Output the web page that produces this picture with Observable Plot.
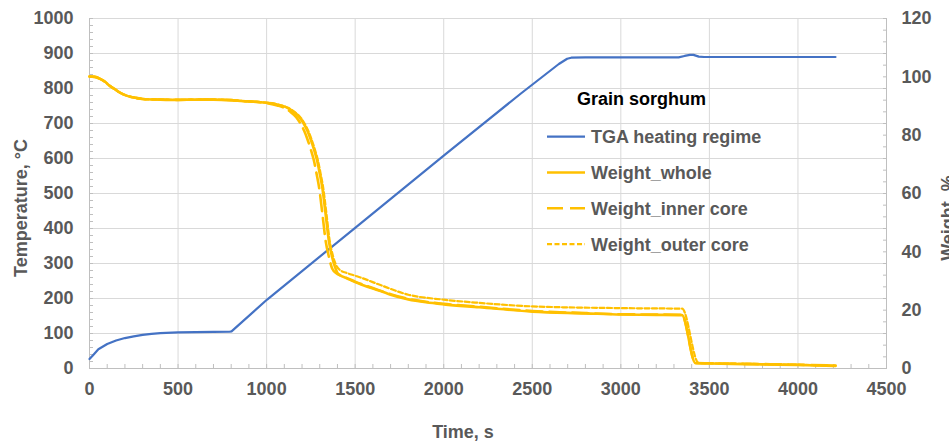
<!DOCTYPE html>
<html>
<head>
<meta charset="utf-8">
<script src="https://cdn.jsdelivr.net/npm/d3@7"></script>
<script src="https://cdn.jsdelivr.net/npm/@observablehq/plot@0.6"></script>
<style>
  body { margin: 0; background: #fff; }
  #wrap { position: relative; width: 949px; height: 443px; overflow: hidden; }
  #wrap > svg { position: absolute; left: 0; top: 0; }
</style>
</head>
<body>
<div id="wrap"></div>
<script>
// ---- Tick labels ----
const timeTicks = [0, 500, 1000, 1500, 2000, 2500, 3000, 3500, 4000, 4500];
const tempTicks = [0, 100, 200, 300, 400, 500, 600, 700, 800, 900, 1000];
const weightTicks = [0, 20, 40, 60, 80, 100, 120];

// ---- Series: TGA heating regime (temperature, °C) ----
const tgaTime = [0, 20, 50, 100, 150, 200, 250, 300, 350, 400, 500, 600, 700, 790, 802,
  1003, 1500, 2000, 2434, 2650, 2697, 2720, 2800, 3000, 3326, 3360, 3390, 3410, 3440, 3470, 3800, 4212];
const tgaTemp = [27, 38, 55, 70, 80, 87, 92, 96, 99, 101, 103, 104, 104.5, 105, 106,
  197, 402, 608, 785, 870, 885, 888, 889, 889, 889, 893, 896, 896, 891, 890, 890, 890];

// ---- Series: Weight_whole (%) ----
const wholeTime = [0, 30, 60, 90, 110, 140, 166, 195, 222, 260, 300, 400, 500, 600, 700, 800, 862, 965,
  1030, 1078, 1120, 1154, 1185, 1210, 1230, 1248, 1268, 1285, 1300, 1314, 1333, 1351, 1370, 1385, 1398, 1417,
  1450, 1500, 1530, 1600, 1643, 1700, 1800, 1900, 2000, 2200, 2500, 2800, 3000, 3200, 3345, 3422, 3500, 3700, 4000, 4212];
const wholeWeight = [100.1, 100, 99.3, 98.2, 97.1, 95.9, 94.8, 93.9, 93.3, 92.8, 92.4, 92.2, 92.1, 92.2, 92.2, 92.0, 91.7, 91.3,
  90.9, 90.2, 89.3, 87.9, 86.2, 83.9, 81.5, 78.7, 75.0, 71.3, 66.8, 62.2, 53.0, 43.9, 38.2, 35.0, 33.0, 31.9,
  31.0, 29.6, 28.9, 27.4, 26.6, 25.3, 23.7, 22.7, 22.0, 21.0, 19.5, 18.9, 18.5, 18.4, 18.3, 1.8, 1.7, 1.5, 1.2, 0.9];

// ---- Series: Weight_inner core (%) ----
const innerTime = [0, 30, 60, 90, 110, 140, 166, 195, 222, 260, 300, 400, 500, 600, 700, 800, 862, 965,
  1010, 1060, 1102, 1136, 1167, 1192, 1212, 1230, 1250, 1267, 1282, 1296, 1315, 1333, 1352, 1370, 1395, 1420,
  1450, 1500, 1600, 1700, 1800, 2000, 2200, 2500, 2800, 3000, 3200, 3345, 3422, 3500, 3700, 4000, 4212];
const innerWeight = [100.1, 100, 99.3, 98.2, 97.1, 95.9, 94.8, 93.9, 93.3, 92.8, 92.4, 92.2, 92.1, 92.2, 92.2, 92.0, 91.7, 91.3,
  90.9, 90.2, 89.3, 87.9, 86.2, 83.9, 81.5, 78.7, 75.0, 71.3, 66.8, 62.2, 53.0, 43.9, 38.2, 34.3, 32.6, 31.8,
  31.1, 29.8, 27.6, 25.5, 23.9, 22.2, 21.2, 19.7, 19.0, 18.6, 18.5, 18.4, 1.9, 1.8, 1.6, 1.3, 1.0];

// ---- Series: Weight_outer core (%) ----
const outerTime = [0, 30, 60, 90, 110, 140, 166, 195, 222, 260, 300, 400, 500, 600, 700, 800, 862, 965,
  1035, 1083, 1125, 1159, 1190, 1215, 1235, 1253, 1273, 1290, 1305, 1319, 1338, 1356, 1375, 1392, 1413,
  1450, 1500, 1530, 1643, 1800, 2000, 2200, 2500, 3000, 3346, 3439, 3500, 3700, 4000, 4212];
const outerWeight = [100.1, 100, 99.3, 98.2, 97.1, 95.9, 94.8, 93.9, 93.3, 92.8, 92.4, 92.2, 92.1, 92.2, 92.2, 92.0, 91.7, 91.3,
  90.9, 90.2, 89.3, 87.9, 86.2, 83.9, 81.5, 78.7, 75.0, 71.3, 66.8, 62.2, 53.0, 43.9, 38.5, 35.5, 33.8,
  32.8, 31.8, 31.2, 28.6, 25.3, 23.6, 22.5, 21.3, 20.7, 20.5, 1.9, 1.8, 1.6, 1.3, 1.0];

// ---- Build tables ----
const W2T = 1000 / 120; // weight axis (0-120) aligned to temperature axis (0-1000)
const tga = tgaTime.map((t, i) => ({t, v: tgaTemp[i]}));
const whole = wholeTime.map((t, i) => ({t, v: wholeWeight[i] * W2T}));
const inner = innerTime.map((t, i) => ({t, v: innerWeight[i] * W2T}));
const outer = outerTime.map((t, i) => ({t, v: outerWeight[i] * W2T}));

const minorTime = d3.range(0, 4501, 100);
const minorTemp = d3.range(0, 1001, 20);
const minorWeight = d3.range(0, 121, 4).map(w => w * W2T);

const FONT = "'Liberation Sans', Arial, sans-serif";
const GRAY = "#595959";
const YELLOW = "#FFC000";
const BLUE = "#4472C4";
const labelStyle = {fontSize: 18, fontWeight: "bold", fill: GRAY, stroke: null, label: null};
const minorStyle = {tickFormat: () => "", stroke: "#bfbfbf", label: null};

const chart = Plot.plot({
  width: 949,
  height: 443,
  marginLeft: 89,
  marginRight: 63,
  marginTop: 18,
  marginBottom: 75,
  x: {domain: [0, 4500], axis: null},
  y: {domain: [0, 1000], axis: null},
  style: {fontFamily: FONT, background: "white"},
  marks: [
    Plot.ruleY(tempTicks.slice(1), {stroke: "#d9d9d9", strokeWidth: 1}),
    Plot.ruleX(timeTicks.slice(1, -1), {stroke: "#d9d9d9", strokeWidth: 1}),
    Plot.ruleX([0, 4500], {stroke: "#bfbfbf", strokeWidth: 1}),
    Plot.ruleY([0], {stroke: "#bfbfbf", strokeWidth: 1}),
    // minor tick marks (inside the frame)
    Plot.axisX(minorTime, {anchor: "bottom", tickSize: 4, dy: -4, ...minorStyle}),
    Plot.axisY(minorTemp, {anchor: "left", tickSize: 4, dx: 4, ...minorStyle}),
    Plot.axisY(minorWeight, {anchor: "right", tickSize: 4, dx: -4, ...minorStyle}),
    // labelled axes
    Plot.axisX(timeTicks, {anchor: "bottom", tickSize: 0, tickPadding: 14, tickFormat: d => String(d), ...labelStyle}),
    Plot.axisY(tempTicks, {anchor: "left", tickSize: 0, tickPadding: 16, tickFormat: d => String(d), ...labelStyle}),
    Plot.axisY(weightTicks.map(w => w * W2T), {anchor: "right", tickSize: 0, tickPadding: 15,
      tickFormat: d => String(Math.round(d / W2T)), ...labelStyle}),
    // series
    Plot.line(tga, {x: "t", y: "v", stroke: BLUE, strokeWidth: 2.2, curve: "linear"}),
    Plot.line(whole, {x: "t", y: "v", stroke: YELLOW, strokeWidth: 2.6, curve: "monotone-x"}),
    Plot.line(inner, {x: "t", y: "v", stroke: YELLOW, strokeWidth: 2.6, strokeDasharray: "16,7", curve: "monotone-x"}),
    Plot.line(outer, {x: "t", y: "v", stroke: YELLOW, strokeWidth: 2.2, strokeDasharray: "5,2.5", curve: "monotone-x"})
  ]
});

const wrap = document.getElementById("wrap");
wrap.appendChild(chart);

// ---- Titles and legend overlay ----
const legendTitle = "Grain sorghum";
const legendNames = ["TGA heating regime", "Weight_whole", "Weight_inner core", "Weight_outer core"];
const legendColors = [BLUE, YELLOW, YELLOW, YELLOW];
const legendDash = [null, null, "16,7", "5,2.5"];
const legendWidths = [2.2, 2.6, 2.6, 2.2];

const ov = d3.select(wrap).append("svg")
  .attr("width", 949).attr("height", 443)
  .style("position", "absolute").style("left", "0").style("top", "0")
  .style("font-family", FONT).style("font-weight", "bold").style("font-size", "18px");

ov.append("text").attr("x", 463).attr("y", 438).attr("text-anchor", "middle").attr("fill", GRAY).text("Time, s");
ov.append("text").attr("transform", "translate(27,208) rotate(-90)").attr("text-anchor", "middle").attr("fill", GRAY).text("Temperature, °C");
ov.append("text").attr("transform", "translate(954,218) rotate(-90)").attr("text-anchor", "middle").attr("fill", GRAY).text("Weight, %");

ov.append("text").attr("x", 577).attr("y", 105).attr("fill", "#000").text(legendTitle);
legendNames.forEach((name, i) => {
  const ly = 136.7 + i * 35.8;
  ov.append("line").attr("x1", 547).attr("x2", 585).attr("y1", ly).attr("y2", ly)
    .attr("stroke", legendColors[i]).attr("stroke-width", legendWidths[i])
    .attr("stroke-dasharray", legendDash[i]);
  ov.append("text").attr("x", 591).attr("y", ly + 6.5).attr("fill", GRAY).text(name);
});
</script>
</body>
</html>
